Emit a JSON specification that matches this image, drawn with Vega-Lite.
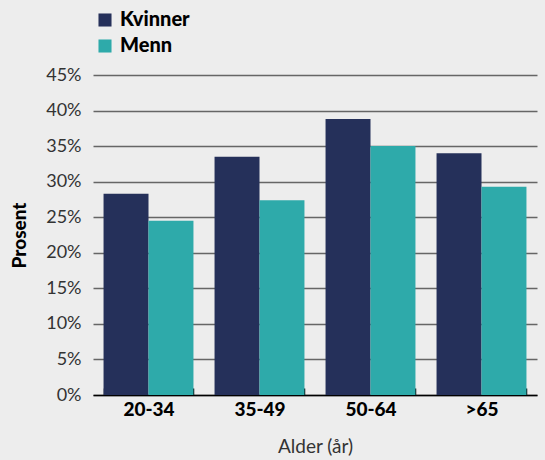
{
  "$schema": "https://vega.github.io/schema/vega-lite/v6.json",
  "autosize": "none",
  "width": 444,
  "height": 320,
  "padding": {"left": 93, "top": 75, "right": 8, "bottom": 65},
  "background": "#EDEDED",
  "config": {
    "view": {"stroke": null},
    "font": "Lato"
  },
  "data": {
    "values": [
      {"alder": "20-34", "kjonn": "Kvinner", "prosent": 28.3},
      {"alder": "20-34", "kjonn": "Menn", "prosent": 24.5},
      {"alder": "35-49", "kjonn": "Kvinner", "prosent": 33.5},
      {"alder": "35-49", "kjonn": "Menn", "prosent": 27.4},
      {"alder": "50-64", "kjonn": "Kvinner", "prosent": 38.8},
      {"alder": "50-64", "kjonn": "Menn", "prosent": 35.0},
      {"alder": ">65", "kjonn": "Kvinner", "prosent": 34.0},
      {"alder": ">65", "kjonn": "Menn", "prosent": 29.3}
    ]
  },
  "mark": {"type": "bar"},
  "encoding": {
    "x": {
      "field": "alder",
      "type": "nominal",
      "sort": ["20-34", "35-49", "50-64", ">65"],
      "scale": {"paddingInner": 0.19, "paddingOuter": 0.095},
      "axis": {
        "title": "Alder (år)",
        "titleFontSize": 19,
        "titleFontWeight": "normal",
        "titleColor": "#333333",
        "titlePadding": 18,
        "labelAngle": 0,
        "labelFontSize": 19,
        "labelFontWeight": 900,
        "labelColor": "#000000",
        "labelPadding": 12,
        "domainColor": "#000000",
        "domainWidth": 1.5,
        "tickColor": "#000000",
        "tickSize": -7,
        "tickWidth": 1.5,
        "tickBand": "extent",
        "grid": false
      }
    },
    "xOffset": {"field": "kjonn", "type": "nominal", "scale": {"paddingInner": 0}},
    "y": {
      "field": "prosent",
      "type": "quantitative",
      "scale": {"domain": [0, 45]},
      "axis": {
        "title": "Prosent",
        "titleFontSize": 19,
        "titleFontWeight": 900,
        "titleColor": "#000000",
        "titlePadding": 16,
        "values": [0, 5, 10, 15, 20, 25, 30, 35, 40, 45],
        "labelExpr": "datum.value + '%'",
        "labelFontSize": 18,
        "labelColor": "#333333",
        "labelPadding": 12,
        "domain": false,
        "ticks": false,
        "gridColor": "#666666",
        "gridWidth": 1.5
      }
    },
    "color": {
      "field": "kjonn",
      "type": "nominal",
      "scale": {"domain": ["Kvinner", "Menn"], "range": ["#25305A", "#2EAAAA"]},
      "legend": {
        "title": null,
        "orient": "none",
        "legendX": 2,
        "legendY": -65,
        "symbolType": "square",
        "symbolSize": 170,
        "symbolStrokeWidth": 0,
        "symbolOpacity": 1,
        "labelFontSize": 20,
        "labelFontWeight": 900,
        "labelColor": "#000000",
        "rowPadding": 6,
        "labelOffset": 5
      }
    }
  }
}
